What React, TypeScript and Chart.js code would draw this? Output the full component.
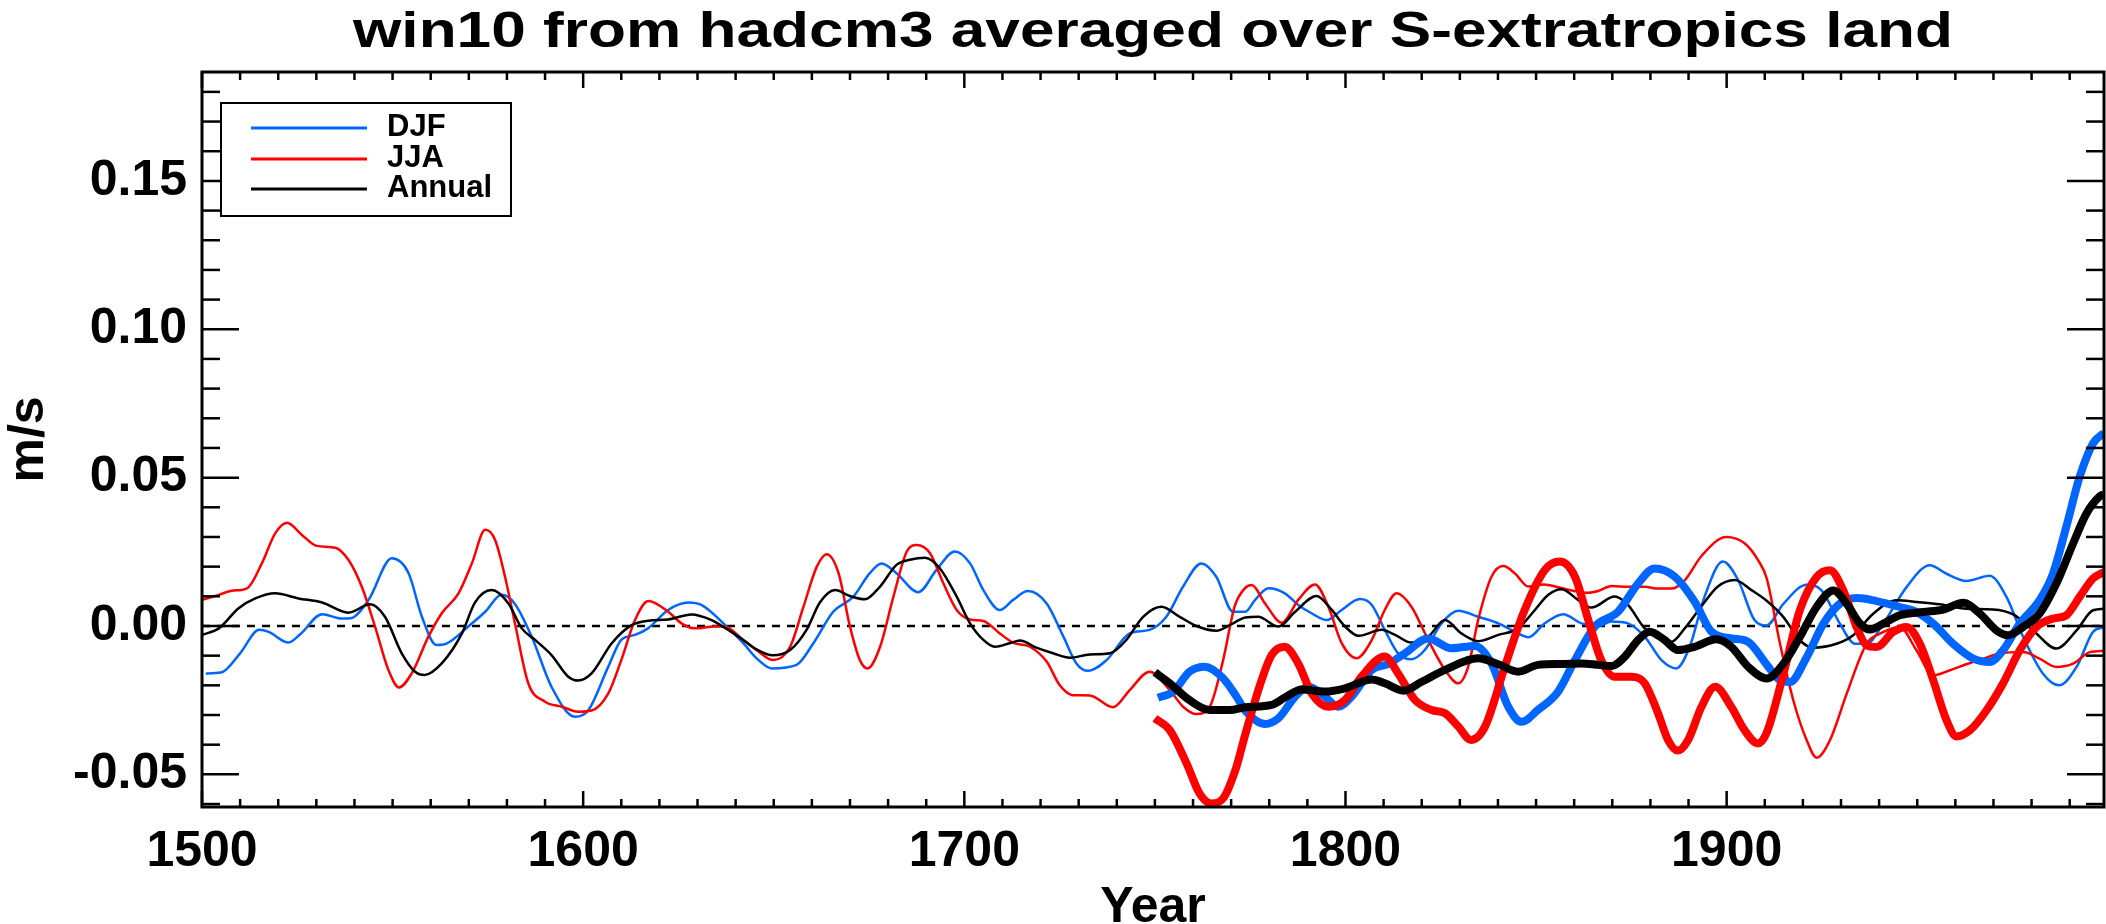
import React, { useEffect, useRef } from "react";
import { Chart, registerables } from "chart.js";

Chart.register(...registerables);

// ---------------- text ----------------
const TITLE = "win10 from hadcm3 averaged over S-extratropics land";
const X_TITLE = "Year";
const Y_TITLE = "m/s";
const LEGEND_LABELS = ["DJF", "JJA", "Annual"];

// ---------------- axes ----------------
const X_MIN = 1500;
const X_MAX = 1999;
const Y_MIN = -0.061;
const Y_MAX = 0.1867;
const X_TICKS = [1500, 1600, 1700, 1800, 1900];
const Y_TICKS = [-0.05, 0.0, 0.05, 0.1, 0.15];

// ---------------- reference (zero) line ----------------
const ZERO_YEARS = [1500, 1999];
const ZERO_VALUES = [0, 0];

// ---------------- DJF, 1500-1999 (thin) ----------------
const djfYears = [
  1501, 1505, 1510, 1515, 1517.5, 1522.7, 1526, 1531.5, 1536.7, 1539, 1543.7, 1549.8, 1554.2, 1557.7, 1561.5, 1564,
  1570, 1574.3, 1578.6, 1582, 1586.5, 1591.7, 1597.9, 1601.4, 1606.6, 1610, 1613.6, 1617, 1622.3, 1627.6, 1631, 1636.8,
  1642, 1645.5, 1649.5, 1656, 1660.4, 1665.6, 1670.9, 1675.2, 1678.3, 1682.2, 1687.9, 1692.7, 1697.5, 1701.5, 1705,
  1709.3, 1712.8, 1716.7, 1721.6, 1726, 1729.4, 1732.5, 1737.3, 1743.4, 1748.6, 1753, 1757.4, 1762.2, 1766.1, 1770.5,
  1773.7, 1776.3, 1779.8, 1784.1, 1787.6, 1791.1, 1795.1, 1799, 1803.8, 1806.9, 1810.3, 1813.8, 1817.3, 1820.8, 1825.2,
  1829.6, 1834.8, 1840.1, 1844.4, 1848, 1852.3, 1857.1, 1861.9, 1866.3, 1869.8, 1874.1, 1878.5, 1882.9, 1886.8, 1890.3,
  1894.2, 1899, 1903, 1907.3, 1910.5, 1914.9, 1921, 1924.9, 1929.7, 1933.7, 1936.7, 1941.1, 1947.2, 1953.3, 1957.7,
  1962.9, 1969, 1973.4, 1977.8, 1983, 1987.2, 1991.8, 1996.1, 1999,
];
const djfValues = [
  -0.016, -0.0157, -0.0092, -0.0013, -0.002, -0.0056, -0.0025, 0.004, 0.0025, 0.0026, 0.0088, 0.0228, 0.0178, 0.0031,
  -0.0064, -0.006, 0.0, 0.0048, 0.0105, 0.0076, -0.0036, -0.0205, -0.0306, -0.0283, -0.0137, -0.0047, -0.003, -0.0008,
  0.0054, 0.0079, 0.0071, 0.0009, -0.0058, -0.0109, -0.0143, -0.0131, -0.0058, 0.0048, 0.0099, 0.0178, 0.0211, 0.0178,
  0.0114, 0.0189, 0.0251, 0.0211, 0.0121, 0.0054, 0.0088, 0.0118, 0.0076, -0.0036, -0.0126, -0.0151, -0.0115, -0.0025,
  -0.0013, 0.0031, 0.0133, 0.0211, 0.0166, 0.0048, 0.0048, 0.0088, 0.0127, 0.011, 0.0071, 0.0043, 0.002, 0.0054, 0.0091,
  0.0071, -0.0013, -0.0092, -0.0112, -0.0081, 0.0009, 0.0051, 0.0031, 0.0009, -0.0019, -0.0038, 0.0009, 0.004, 0.0009,
  0.0, 0.0015, 0.0009, -0.0036, -0.0115, -0.0143, -0.007, 0.0099, 0.0217, 0.0155, 0.002, 0.0002, 0.0075, 0.0139, 0.012,
  0.0008, -0.006, -0.006, 0.0008, 0.0131, 0.0205, 0.0176, 0.0152, 0.0169, 0.0098, -0.0037, -0.0161, -0.02, -0.0138,
  -0.002, -0.0004,
];

// ---------------- JJA, 1500-1999 (thin) ----------------
const jjaYears = [
  1500, 1504.4, 1507.9, 1511.8, 1515.7, 1519.2, 1522.3, 1526.2, 1530.1, 1535, 1538.4, 1541.9, 1545.4, 1548.9, 1551.7,
  1555, 1559.4, 1562.9, 1567.3, 1570.8, 1574.3, 1576.9, 1579.5, 1582.1, 1585.6, 1590, 1594.4, 1598.7, 1602.2, 1606.6,
  1610, 1613.6, 1617.1, 1622.3, 1625.8, 1629.3, 1634.5, 1637, 1642, 1645.5, 1649.9, 1654.3, 1657.8, 1661.3, 1663.9,
  1667, 1670, 1672.6, 1674.6, 1677.9, 1681.4, 1684.9, 1687.5, 1691, 1694.5, 1698, 1701.5, 1705, 1709.3, 1712.8, 1717.2,
  1721.6, 1725, 1728.5, 1732.9, 1739, 1743.4, 1748.6, 1753.9, 1757.4, 1760.9, 1764.4, 1767.9, 1770.9, 1773.6, 1775.4,
  1778.9, 1783.3, 1787.6, 1792, 1795.5, 1799, 1802.9, 1806.9, 1810.3, 1813.4, 1817.3, 1821.7, 1826.1, 1829.6, 1832.2,
  1834.8, 1838.3, 1841.4, 1844.4, 1848, 1852, 1856, 1860, 1863.7, 1866.3, 1869.8, 1874.1, 1878.5, 1882, 1885.5, 1889,
  1893.4, 1899.9, 1904.7, 1908.2, 1910.5, 1914, 1917.5, 1921, 1923.6, 1927.1, 1931.5, 1936.7, 1940.2, 1945.4, 1949.8,
  1954.2, 1958.6, 1962.9, 1967.3, 1971.7, 1977.8, 1982.1, 1986.5, 1990.9, 1995.3, 1999,
];
const jjaValues = [
  0.0088, 0.0105, 0.0119, 0.0127, 0.0211, 0.0312, 0.0348, 0.0307, 0.027, 0.0264, 0.0223, 0.0133, -0.0002, -0.0148,
  -0.0207, -0.016, -0.0036, 0.0043, 0.011, 0.0211, 0.0324, 0.029, 0.0166, 0.0009, -0.0193, -0.0255, -0.0272, -0.0289,
  -0.0285, -0.0227, -0.0115, 0.002, 0.0084, 0.0048, 0.0009, -0.0008, -0.0002, -0.0002, -0.0047, -0.0081, -0.0115,
  -0.007, 0.0065, 0.02, 0.0242, 0.0178, -0.0002, -0.0115, -0.0143, -0.007, 0.0099, 0.0251, 0.0273, 0.0245, 0.0144,
  0.0054, 0.0022, 0.0017, -0.0025, -0.0056, -0.007, -0.012, -0.0199, -0.0233, -0.0234, -0.0274, -0.0216, -0.0154,
  -0.0216, -0.0272, -0.0297, -0.0272, -0.0115, 0.0065, 0.0127, 0.0138, 0.0076, 0.0011, 0.0088, 0.014, 0.0065, -0.0058,
  -0.0109, -0.0047, 0.0054, 0.011, 0.0065, -0.0047, -0.0148, -0.0193, -0.0137, 0.002, 0.0166, 0.0202, 0.0178, 0.0133,
  0.014, 0.013, 0.0118, 0.0112, 0.0118, 0.0135, 0.0132, 0.0132, 0.0126, 0.0126, 0.0154, 0.0236, 0.03, 0.0279, 0.0223,
  0.0161, -0.006, -0.0251, -0.0385, -0.0444, -0.0385, -0.0228, -0.006, -0.0026, -0.0003, -0.0082, -0.0166, -0.0149,
  -0.0129, -0.011, -0.0093, -0.0088, -0.011, -0.0138, -0.0127, -0.0088, -0.0084,
];

// ---------------- Annual, 1500-1999 (thin) ----------------
const annYears = [
  1500, 1504.4, 1509.6, 1514, 1519.2, 1525.3, 1531.5, 1538.4, 1544.1, 1548, 1552.4, 1555.9, 1558.4, 1562.9, 1568.2,
  1571.6, 1576, 1580.4, 1583.9, 1587.4, 1591.7, 1596.1, 1598.7, 1602.2, 1607.5, 1612.7, 1617.1, 1622.3, 1628.4, 1633.7,
  1636.8, 1642, 1645.5, 1649.7, 1654.3, 1658.6, 1662.1, 1666.1, 1670, 1673.9, 1677.9, 1682.2, 1685.7, 1689.7, 1693.6,
  1698, 1701.5, 1705, 1708, 1711.9, 1714.6, 1718.9, 1723.3, 1727.7, 1732.9, 1738.2, 1742.5, 1746.9, 1751.7, 1756.5,
  1760.9, 1766.1, 1770.5, 1773.7, 1777.1, 1782.4, 1786.8, 1792.4, 1796.4, 1799.9, 1803.4, 1809.5, 1813, 1817.3, 1821.7,
  1826.1, 1830.4, 1834.8, 1840.1, 1845.3, 1849.7, 1853.2, 1856.7, 1861, 1864.5, 1870.6, 1874.1, 1878.5, 1882, 1885.5,
  1889, 1893.3, 1897.7, 1902.1, 1906.5, 1910.5, 1914.9, 1919.2, 1922.7, 1928.8, 1933.2, 1938.5, 1944.6, 1949.8, 1955.9,
  1962.9, 1969.9, 1975.2, 1980.4, 1986.5, 1991.8, 1996.1, 1999,
];
const annValues = [
  -0.003, -0.0008, 0.006, 0.0093, 0.011, 0.0093, 0.0079, 0.0045, 0.0073, 0.0031, -0.0092, -0.0154, -0.0165, -0.0126,
  -0.0025, 0.0079, 0.0121, 0.0076, -0.0008, -0.0047, -0.0098, -0.0171, -0.0184, -0.016, -0.0058, 0.0003, 0.0018,
  0.0022, 0.0039, 0.002, -0.0003, -0.0047, -0.0079, -0.0099, -0.0081, -0.0013, 0.0079, 0.0121, 0.0101, 0.009, 0.0133,
  0.0206, 0.0223, 0.023, 0.0194, 0.0099, 0.0009, -0.0047, -0.007, -0.0058, -0.0049, -0.0073, -0.0092, -0.0107, -0.0096,
  -0.0092, -0.0047, 0.0031, 0.0065, 0.0031, 0.0, -0.0016, 0.0009, 0.0029, 0.0031, -0.0002, 0.0048, 0.0101, 0.0054,
  -0.0002, -0.0033, -0.0013, -0.003, -0.0056, -0.0036, 0.002, -0.0025, -0.0051, -0.003, -0.0008, 0.0054, 0.0105, 0.0124,
  0.0088, 0.0062, 0.0099, 0.0071, -0.0008, -0.0036, -0.0053, -0.0008, 0.0065, 0.0133, 0.0155, 0.0121, 0.0085, 0.003,
  -0.0048, -0.0073, -0.006, -0.0031, 0.0042, 0.0087, 0.0081, 0.0073, 0.0058, 0.0056, 0.0039, -0.0015, -0.0076, -0.0015,
  0.0053, 0.0058,
];

// ---------------- DJF, 1750-1999 (thick) ----------------
const djfLateYears = [
  1750.8, 1754.8, 1759.1, 1763.1, 1767.9, 1771.4, 1773.7, 1778.9, 1782.4, 1786.8, 1790.3, 1794.6, 1798.1, 1801.6,
  1806.9, 1811.2, 1815.6, 1821.7, 1827.8, 1834, 1838.3, 1842.7, 1846.2, 1850.5, 1855.8, 1860.2, 1865.4, 1871.5, 1876.8,
  1881.1, 1886.4, 1891.6, 1896, 1901.2, 1905.6, 1910.5, 1914, 1916.6, 1921, 1925.4, 1929.7, 1934.1, 1939.3, 1945.4,
  1949.8, 1954.2, 1959.4, 1964.7, 1969, 1972.5, 1976.9, 1982.1, 1985.6, 1989.1, 1992.6, 1996.1, 1999,
];
const djfLateValues = [
  -0.0242, -0.0221, -0.0154, -0.0137, -0.0176, -0.0238, -0.0285, -0.033, -0.0311, -0.0238, -0.0205, -0.0238, -0.0272,
  -0.0238, -0.0148, -0.0128, -0.0092, -0.0042, -0.0075, -0.0067, -0.0126, -0.0272, -0.0323, -0.0283, -0.0221, -0.0115,
  -0.0002, 0.0048, 0.0144, 0.0194, 0.0166, 0.0082, -0.0019, -0.0042, -0.0053, -0.013, -0.0183, -0.0189, -0.0105, 0.0008,
  0.0075, 0.0094, 0.0084, 0.0064, 0.0047, 0.0008, -0.006, -0.011, -0.0121, -0.0082, 0.0008, 0.0087, 0.0176, 0.0334,
  0.0502, 0.0615, 0.0651,
];

// ---------------- JJA, 1750-1999 (thick) ----------------
const jjaLateYears = [
  1750, 1753.9, 1758.3, 1761.7, 1764.8, 1767.9, 1771.4, 1773.6, 1778, 1780.6, 1784, 1787.6, 1791.1, 1795.5, 1799.9,
  1804.2, 1810.3, 1813.8, 1818.2, 1822.6, 1826.1, 1829.6, 1832.9, 1836.6, 1841.8, 1847, 1852.3, 1856.2, 1860.2, 1863.7,
  1867.1, 1870.6, 1875, 1878.5, 1882, 1884.6, 1887.1, 1889.9, 1893.4, 1897, 1901.2, 1904.7, 1908.2, 1910.5, 1914.9,
  1919.2, 1923.6, 1927.1, 1930.6, 1934.1, 1936.7, 1939.3, 1943.7, 1947.2, 1950.7, 1954.2, 1957.7, 1960.3, 1963.8,
  1968.2, 1972.5, 1976.9, 1981.3, 1985.6, 1989.1, 1992.6, 1996.1, 1999,
];
const jjaLateValues = [
  -0.0311, -0.0351, -0.0463, -0.0564, -0.0598, -0.0581, -0.0474, -0.037, -0.0182, -0.0098, -0.007, -0.0126, -0.0227,
  -0.0272, -0.0249, -0.0171, -0.0103, -0.016, -0.0249, -0.0283, -0.0294, -0.0339, -0.0384, -0.0339, -0.0137, 0.0054,
  0.0189, 0.0217, 0.0166, 0.002, -0.0115, -0.0171, -0.0171, -0.0193, -0.0294, -0.0384, -0.042, -0.0384, -0.0272, -0.0205,
  -0.0272, -0.0351, -0.0396, -0.036, -0.0161, 0.0053, 0.0165, 0.0188, 0.012, -0.0003, -0.0065, -0.0071, -0.002, -0.0003,
  -0.006, -0.0183, -0.0318, -0.0372, -0.0352, -0.0284, -0.0194, -0.0082, -0.0003, 0.0025, 0.0036, 0.0098, 0.016, 0.0182,
];

// ---------------- Annual, 1750-1999 (thick) ----------------
const annLateYears = [
  1750, 1753.9, 1759.1, 1764.4, 1769.6, 1773.7, 1780.6, 1784.1, 1788.5, 1794.6, 1799.9, 1806.9, 1810.3, 1815.2, 1820,
  1826.1, 1834.8, 1840.1, 1845.3, 1850.5, 1856.7, 1861.9, 1866.3, 1869.8, 1873.3, 1876.8, 1879.8, 1883.7, 1887.2,
  1891.6, 1897.3, 1901.2, 1905.6, 1910.5, 1914.9, 1919.2, 1923.6, 1928, 1931.5, 1935, 1937.6, 1941.1, 1945.4, 1951.6,
  1956.8, 1962.1, 1966.4, 1970.8, 1973.8, 1977.8, 1982.1, 1986.5, 1990.9, 1994.4, 1997.9, 1999,
];
const annLateValues = [
  -0.0156, -0.0193, -0.025, -0.0283, -0.0283, -0.0274, -0.0266, -0.0241, -0.0214, -0.0221, -0.021, -0.018, -0.0193,
  -0.0218, -0.0188, -0.0148, -0.0109, -0.0129, -0.0154, -0.0131, -0.0128, -0.0126, -0.0131, -0.0135, -0.0103, -0.0047,
  -0.0019, -0.0047, -0.0081, -0.007, -0.0045, -0.007, -0.0137, -0.0177, -0.0127, -0.0037, 0.0064, 0.012, 0.0075, 0.0008,
  -0.0012, 0.0008, 0.0036, 0.0047, 0.0055, 0.0078, 0.0042, -0.0015, -0.0031, -0.0003, 0.0042, 0.0143, 0.0278, 0.0379,
  0.0437, 0.0444,
];

// ---------------- styling ----------------
const FONT = '"Liberation Sans", Arial, Helvetica, sans-serif';
const BLUE = "rgb(0,102,255)";
const RED = "rgb(255,0,0)";
const BLACK = "rgb(0,0,0)";
const COLORS = [BLUE, RED, BLACK];

const pts = (xs: number[], ys: number[]) => xs.map((x, i) => ({ x, y: ys[i] }));

const fmtY = (v: number) => (Math.abs(v) < 1e-9 ? "0.00" : v.toFixed(2));

const idlFrame = {
  id: "idlFrame",
  afterDraw(chart: any) {
    const { ctx, chartArea: a } = chart;
    const xs = chart.scales.x;
    const ys = chart.scales.y;
    ctx.save();
    ctx.strokeStyle = "#000";
    ctx.lineCap = "butt";

    // frame
    ctx.lineWidth = 3;
    ctx.strokeRect(a.left, a.top, a.right - a.left, a.bottom - a.top);

    const seg = (x1: number, y1: number, x2: number, y2: number) => {
      ctx.beginPath();
      ctx.moveTo(x1, y1);
      ctx.lineTo(x2, y2);
      ctx.stroke();
    };

    ctx.lineWidth = 2.5;
    // x ticks (inward, bottom & top)
    for (let v = X_MIN; v <= X_MAX; v += 10) {
      const px = xs.getPixelForValue(v);
      const len = v % 100 === 0 ? 16 : 8;
      seg(px, a.bottom, px, a.bottom - len);
      seg(px, a.top, px, a.top + len);
    }
    // y ticks (inward, left & right)
    for (let i = Math.ceil(Y_MIN * 100); i <= Math.floor(Y_MAX * 100); i++) {
      const py = ys.getPixelForValue(i / 100);
      const len = i % 5 === 0 ? 37 : 18;
      seg(a.left, py, a.left + len, py);
      seg(a.right, py, a.right - len, py);
    }

    ctx.fillStyle = "#000";
    // main title (wide IDL-like glyphs)
    ctx.font = `bold 50px ${FONT}`;
    ctx.textAlign = "center";
    ctx.textBaseline = "alphabetic";
    const tw = ctx.measureText(TITLE).width;
    const sx = 1600 / tw;
    const cx = (a.left + a.right) / 2;
    ctx.save();
    ctx.translate(cx, 47);
    ctx.scale(sx, 1);
    ctx.fillText(TITLE, 0, 0);
    ctx.restore();

    // x title
    ctx.font = `bold 50px ${FONT}`;
    ctx.fillText(X_TITLE, cx, 922);

    // y title
    ctx.save();
    ctx.translate(43, (a.top + a.bottom) / 2);
    ctx.rotate(-Math.PI / 2);
    ctx.fillText(Y_TITLE, 0, 0);
    ctx.restore();

    // legend
    const bx = 221, by = 103, bw = 290, bh = 113;
    ctx.fillStyle = "#fff";
    ctx.fillRect(bx, by, bw, bh);
    ctx.lineWidth = 2;
    ctx.strokeStyle = "#000";
    ctx.strokeRect(bx, by, bw, bh);
    ctx.font = `bold 31px ${FONT}`;
    ctx.textAlign = "left";
    const rows = [128, 159, 189];
    LEGEND_LABELS.forEach((lab, i) => {
      ctx.strokeStyle = COLORS[i];
      ctx.lineWidth = 3;
      seg(251, rows[i], 367, rows[i]);
      ctx.fillStyle = "#000";
      ctx.fillText(lab, 387, rows[i] + 7.5);
    });
    ctx.restore();
  },
};

export default function App() {
  const ref = useRef<HTMLCanvasElement | null>(null);

  useEffect(() => {
    const canvas = ref.current;
    if (!canvas) return;
    const thin = 2.5;
    const thick = 8;
    const line = (label: string, data: any, color: string, width: number, order: number, extra: any = {}) => ({
      label,
      data,
      borderColor: color,
      backgroundColor: color,
      borderWidth: width,
      pointRadius: 0,
      pointHoverRadius: 0,
      fill: false,
      cubicInterpolationMode: "monotone",
      borderJoinStyle: "round",
      order,
      ...extra,
    });

    const chart = new Chart(canvas, {
      type: "line",
      data: {
        datasets: [
          line("zero", pts(ZERO_YEARS, ZERO_VALUES), BLACK, 2.5, 10, { borderDash: [8, 7], cubicInterpolationMode: "default", tension: 0 }),
          line(LEGEND_LABELS[0], pts(djfYears, djfValues), BLUE, thin, 9),
          line(LEGEND_LABELS[1], pts(jjaYears, jjaValues), RED, thin, 8),
          line(LEGEND_LABELS[2], pts(annYears, annValues), BLACK, thin, 7),
          line(LEGEND_LABELS[0] + " (1750-)", pts(djfLateYears, djfLateValues), BLUE, thick, 6),
          line(LEGEND_LABELS[1] + " (1750-)", pts(jjaLateYears, jjaLateValues), RED, thick, 5),
          line(LEGEND_LABELS[2] + " (1750-)", pts(annLateYears, annLateValues), BLACK, thick, 4),
        ] as any,
      },
      options: {
        animation: false,
        responsive: false,
        devicePixelRatio: 1,
        parsing: true,
        layout: { padding: { top: 72, right: 2, bottom: 0, left: 0 } },
        plugins: {
          legend: { display: false },
          tooltip: { enabled: false },
          title: { display: false },
        },
        events: [],
        scales: {
          x: {
            type: "linear",
            min: X_MIN,
            max: X_MAX,
            grid: { display: false, drawTicks: false },
            border: { display: false },
            ticks: {
              color: "#000",
              padding: 15,
              maxRotation: 0,
              autoSkip: false,
              font: { family: FONT, size: 50, weight: "bold" },
              callback: (v: any) => String(v),
            },
            afterBuildTicks: (s: any) => {
              s.ticks = X_TICKS.map((value) => ({ value }));
            },
            afterFit: (s: any) => {
              s.height = 117;
            },
          },
          y: {
            type: "linear",
            min: Y_MIN,
            max: Y_MAX,
            grid: { display: false, drawTicks: false },
            border: { display: false },
            ticks: {
              color: "#000",
              padding: 15,
              autoSkip: false,
              font: { family: FONT, size: 50, weight: "bold" },
              callback: (v: any) => fmtY(Number(v)),
            },
            afterBuildTicks: (s: any) => {
              s.ticks = Y_TICKS.map((value) => ({ value }));
            },
            afterFit: (s: any) => {
              s.width = 202;
            },
          },
        },
      } as any,
      plugins: [idlFrame],
    });
    return () => chart.destroy();
  }, []);

  return (
    <div style={{ position: "fixed", left: 0, top: 0, width: 2106, height: 924, background: "#fff" }}>
      <canvas ref={ref} width={2106} height={924} style={{ display: "block", width: 2106, height: 924 }} />
    </div>
  );
}
